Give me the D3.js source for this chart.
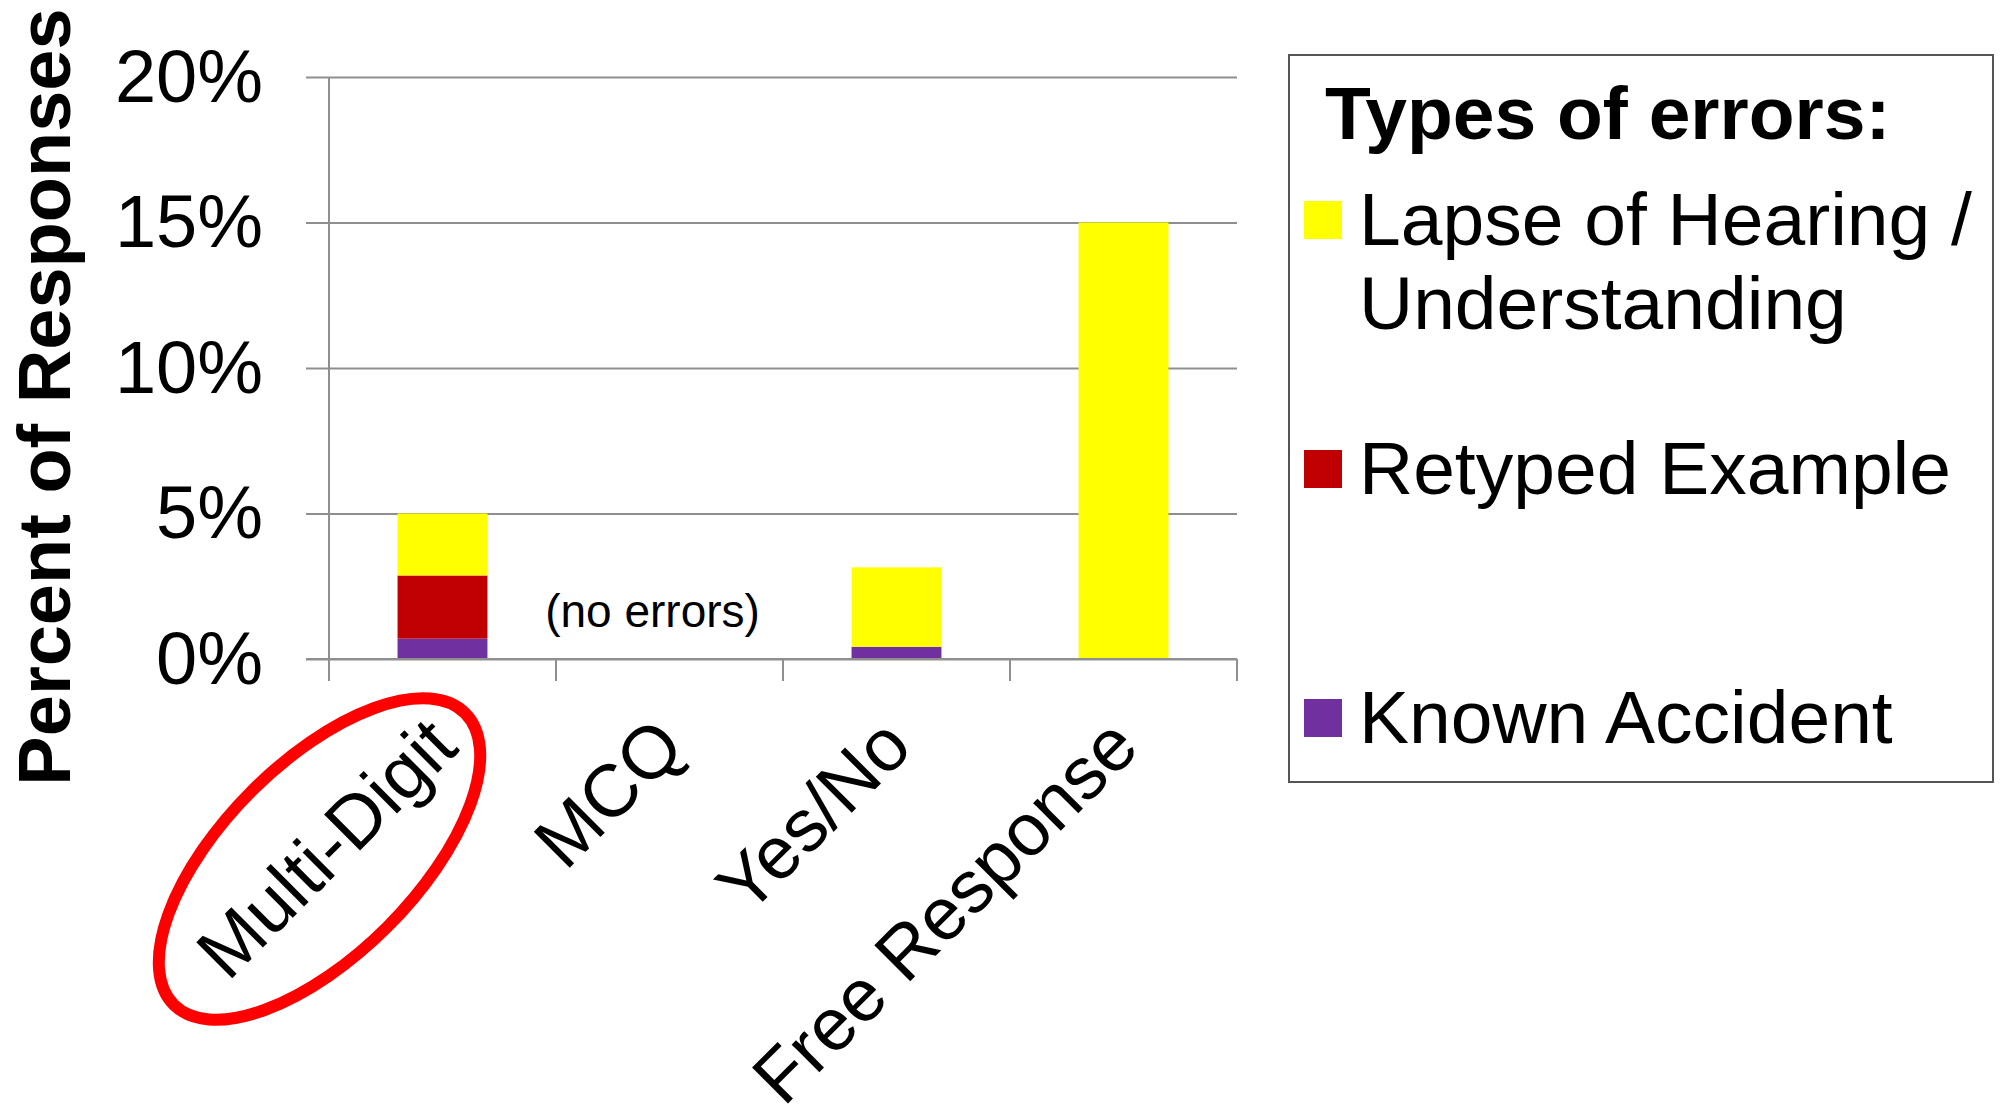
<!DOCTYPE html>
<html>
<head>
<meta charset="utf-8">
<script src="https://cdn.jsdelivr.net/npm/d3@7"></script>
<style>
    body { margin: 0; background: #fff; }
    svg { display: block; font-family: "Liberation Sans", Arial, sans-serif; }
    .axis-label { font-size: 74px; fill: #000; }
    .grid line { stroke: #8f8f8f; stroke-width: 2; }
    .grid path { display: none; }
</style>
</head>
<body>
<div id="chart"></div>
<script>

// chart data (percent of responses)
const categories = ['Multi-Digit', 'MCQ', 'Yes/No', 'Free Response'];
const knownAccident = [0.7, 0, 0.42, 0];
const retypedExample = [2.17, 0, 0, 0];
const lapseHearing = [2.13, 0, 2.73, 15.0];
const yTicks = [0, 5, 10, 15, 20];

const seriesNames = ['Lapse of Hearing / Understanding', 'Retyped Example', 'Known Accident'];
const colors = {
    known: '#7030a0',
    retyped: '#c00000',
    lapse: '#ffff00'
};

const width = 2000;
const height = 1113;

let margin = {
    top: 77,
    left: 329,
    right: 763,   // leave room for the legend
    bottom: 454
};

const plotWidth = width - margin.left - margin.right;
const plotHeight = height - margin.top - margin.bottom;

var svg = d3.select('#chart')
    .append('svg')
    .attr('width', width)
    .attr('height', height)
    .attr('viewBox', '0 0 ' + width + ' ' + height);

var rows = categories.map(function(c, i) {
    return { cat: c, known: knownAccident[i], retyped: retypedExample[i], lapse: lapseHearing[i] };
});

var stack = d3.stack().keys(['known', 'retyped', 'lapse']);
var stacked = stack(rows);

var yScale = d3.scaleLinear()
    .domain([0, 20])
    .range([plotHeight, 0]);

// slots for tick marks, bands for the bars
var xSlots = d3.scaleBand()
    .domain(categories)
    .range([0, plotWidth])
    .padding(0);

var xScale = d3.scaleBand()
    .domain(categories)
    .range([0, plotWidth])
    .paddingInner(0.604)
    .paddingOuter(0.302);

var plot = svg.append('g')
    .attr('id', 'plot')
    .attr('transform', 'translate(' + margin.left + ',' + margin.top + ')');

// gridlines
plot.append('g')
    .attr('class', 'grid')
    .call(d3.axisLeft(yScale).tickValues(yTicks).tickSize(-plotWidth).tickFormat(''));

// y axis with short outer ticks
var yGroup = plot.append('g')
    .attr('id', 'y-axis')
    .call(d3.axisLeft(yScale).tickValues(yTicks).tickSize(23).tickPadding(43)
        .tickFormat(function(d) { return d + '%'; }));

yGroup.select('.domain').remove();
yGroup.selectAll('line').attr('stroke', '#8f8f8f').attr('stroke-width', 2);
yGroup.selectAll('text')
    .attr('class', 'axis-label')
    .attr('font-family', null)
    .attr('font-size', null)
    .attr('dy', '0.33em');

// vertical axis line
plot.append('line')
    .attr('x1', 0).attr('x2', 0)
    .attr('y1', yScale(20)).attr('y2', plotHeight + 22)
    .attr('stroke', '#8f8f8f').attr('stroke-width', 2);

// x tick marks between categories
var bounds = categories.map(function(c) { return xSlots(c); }).concat([plotWidth]);
plot.append('g')
    .attr('id', 'x-axis')
    .selectAll('line')
    .data(bounds)
    .enter().append('line')
    .attr('x1', function(d) { return d; })
    .attr('x2', function(d) { return d; })
    .attr('y1', plotHeight)
    .attr('y2', plotHeight + 22)
    .attr('stroke', '#8f8f8f').attr('stroke-width', 2);

// bars
var layers = plot.append('g').attr('id', 'barContainer')
    .selectAll('g')
    .data(stacked)
    .enter().append('g')
    .attr('fill', function(d) { return colors[d.key]; });

layers.selectAll('rect')
    .data(function(d) { return d.filter(function(p) { return p[1] - p[0] > 0; }); })
    .enter().append('rect')
    .attr('x', function(d) { return xScale(d.data.cat); })
    .attr('width', xScale.bandwidth())
    .attr('y', function(d) { return yScale(d[1]); })
    .attr('height', function(d) { return yScale(d[0]) - yScale(d[1]); });

// x axis line on top of bars
plot.append('line')
    .attr('x1', -23).attr('x2', plotWidth)
    .attr('y1', plotHeight).attr('y2', plotHeight)
    .attr('stroke', '#8f8f8f').attr('stroke-width', 2);

// note for the empty category
plot.append('text')
    .attr('x', xSlots('MCQ') + xSlots.bandwidth() / 2 - 17)
    .attr('y', plotHeight - 32)
    .attr('text-anchor', 'middle')
    .style('font-size', '46px')
    .text('(no errors)');

// rotated category labels
plot.append('g')
    .selectAll('text')
    .data(categories)
    .enter().append('text')
    .attr('class', 'axis-label')
    .attr('text-anchor', 'end')
    .attr('transform', function(d) {
        var cx = xSlots(d) + xSlots.bandwidth() / 2 + 18;
        return 'translate(' + cx + ',' + (plotHeight + 91) + ') rotate(-45)';
    })
    .text(function(d) { return d; });

// red ellipse round the first label
var first = xSlots(categories[0]) + xSlots.bandwidth() / 2;
plot.append('ellipse')
    .attr('transform', 'translate(' + (first - 123) + ',' + (plotHeight + 200) + ') rotate(-45)')
    .attr('rx', 206)
    .attr('ry', 96)
    .attr('fill', 'none')
    .attr('stroke', '#ff0000')
    .attr('stroke-width', 12);

// y label
svg.append('text')
    .attr('transform', 'translate(70,' + 397 + ') rotate(-90)')
    .attr('text-anchor', 'middle')
    .style('font-size', '74px')
    .style('font-weight', 'bold')
    .text('Percent of Responses');

// legend
var legend = svg.append('g')
    .attr('id', 'legend')
    .attr('transform', 'translate(1289,55)');

legend.append('rect')
    .attr('width', 704)
    .attr('height', 727)
    .attr('fill', 'none')
    .attr('stroke', '#555')
    .attr('stroke-width', 2);

legend.append('text')
    .attr('x', 36)
    .attr('y', 84)
    .style('font-size', '75px')
    .style('font-weight', 'bold')
    .text('Types of errors:');

var legendItems = [
    { key: 'lapse', lines: ['Lapse of Hearing /', 'Understanding'] },
    { key: 'retyped', lines: [seriesNames[1]] },
    { key: 'known', lines: [seriesNames[2]] }
];

var items = legend.selectAll('g.item')
    .data(legendItems)
    .enter().append('g')
    .attr('class', 'item')
    .attr('transform', function(d, i) { return 'translate(0,' + (165 + i * 249) + ')'; });

items.append('rect')
    .attr('x', 15)
    .attr('y', -19)
    .attr('width', 38)
    .attr('height', 38)
    .attr('fill', function(d) { return colors[d.key]; });

items.append('text')
    .attr('x', 70)
    .attr('y', 25)
    .style('font-size', '75px')
    .selectAll('tspan')
    .data(function(d) { return d.lines; })
    .enter().append('tspan')
    .attr('x', 70)
    .attr('dy', function(d, i) { return i === 0 ? 0 : 84; })
    .text(function(d) { return d; });

</script>
</body>
</html>
